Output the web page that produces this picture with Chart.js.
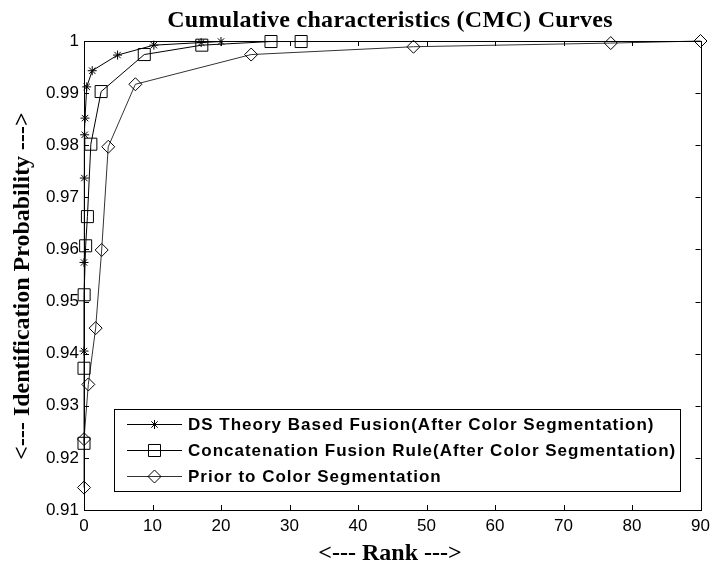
<!DOCTYPE html>
<html>
<head>
<meta charset="utf-8">
<script src="https://cdn.jsdelivr.net/npm/chart.js"></script>
<style>
  body { margin: 0; background: #fff; }
  canvas { display: block; }
</style>
</head>
<body>
<canvas id="cmc" width="710" height="564"></canvas>
<script>
const titleText = 'Cumulative characteristics (CMC) Curves'
const xTitle = '<--- Rank --->'
const yTitle = '<--- Identification Probability --->'

const seriesNames = [
  'DS Theory Based Fusion(After Color Segmentation)',
  'Concatenation Fusion Rule(After Color Segmentation)',
  'Prior to Color Segmentation'
]

const rankDS = [0, 0, 0.05, 0.1, 0.15, 0.4, 1.2, 4.9, 10.2, 17.1, 20]
const probDS = [0.9405, 0.9575, 0.9737, 0.9820, 0.9852, 0.9912, 0.9943, 0.9973, 0.9992, 0.9997, 0.9999]

const rankConcat = [0, 0, 0.02, 0.24, 0.5, 1.0, 2.5, 8.8, 17.2, 27.3, 31.7]
const probConcat = [0.9228, 0.9372, 0.9513, 0.9607, 0.9663, 0.9802, 0.9903, 0.9974, 0.9992, 0.9999, 0.9999]

const rankPrior = [0, 0, 0.63, 1.7, 2.58, 3.54, 7.5, 24.4, 48.1, 76.9, 90]
const probPrior = [0.9143, 0.9236, 0.9341, 0.9449, 0.9599, 0.9797, 0.9917, 0.9974, 0.9989, 0.9996, 1.0]

const xTickValues = [0, 10, 20, 30, 40, 50, 60, 70, 80, 90]
const xTickLabels = ['0', '10', '20', '30', '40', '50', '60', '70', '80', '90']
const yTickValues = [0.91, 0.92, 0.93, 0.94, 0.95, 0.96, 0.97, 0.98, 0.99, 1]
const yTickLabels = ['0.91', '0.92', '0.93', '0.94', '0.95', '0.96', '0.97', '0.98', '0.99', '1']

const toPoints = (xs, ys) => xs.map((x, i) => ({ x, y: ys[i] }))

function makeSet (label, xs, ys, style, radius, color) {
  return {
    label,
    data: toPoints(xs, ys),
    showLine: true,
    borderColor: color,
    borderWidth: 1,
    backgroundColor: 'rgba(0,0,0,0)',
    pointStyle: style,
    pointRadius: radius,
    pointBorderColor: '#000',
    pointBorderWidth: 1,
    pointBackgroundColor: 'rgba(0,0,0,0)',
    tension: 0,
    clip: false
  }
}

// box, inward ticks, titles and the inset legend
const matlabLook = {
  id: 'matlabLook',
  afterDraw (chart) {
    const ctx = chart.ctx
    const area = chart.chartArea
    const xs = chart.scales.x
    const ys = chart.scales.y
    ctx.save()
    ctx.strokeStyle = '#000'
    ctx.lineWidth = 1
    ctx.strokeRect(Math.round(area.left) + 0.5, Math.round(area.top) + 0.5,
      Math.round(area.right - area.left), Math.round(area.bottom - area.top))

    ctx.beginPath()
    xs.ticks.forEach(t => {
      const px = Math.round(xs.getPixelForValue(t.value)) + 0.5
      ctx.moveTo(px, area.bottom); ctx.lineTo(px, area.bottom - 5)
      ctx.moveTo(px, area.top); ctx.lineTo(px, area.top + 5)
    })
    ys.ticks.forEach(t => {
      const py = Math.round(ys.getPixelForValue(t.value)) + 0.5
      ctx.moveTo(area.left, py); ctx.lineTo(area.left + 5, py)
      ctx.moveTo(area.right, py); ctx.lineTo(area.right - 5, py)
    })
    ctx.stroke()

    ctx.fillStyle = '#000'
    ctx.font = 'bold 24px "Liberation Serif", "Times New Roman", serif'
    ctx.textAlign = 'center'
    ctx.textBaseline = 'alphabetic'
    ctx.letterSpacing = '0.3px'
    ctx.fillText(titleText, 390, 27)
    ctx.letterSpacing = '0px'
    ctx.fillText(xTitle, 390, 560)
    ctx.save()
    ctx.translate(29, 286)
    ctx.rotate(-Math.PI / 2)
    ctx.fillText(yTitle, 0, 0)
    ctx.restore()

    // legend
    const box = { left: 114, top: 409, right: 680, bottom: 491 }
    ctx.fillStyle = '#fff'
    ctx.fillRect(box.left, box.top, box.right - box.left, box.bottom - box.top)
    ctx.strokeRect(box.left + 0.5, box.top + 0.5, box.right - box.left, box.bottom - box.top)
    const rows = [424, 450, 476]
    ctx.font = 'bold 17px "Liberation Sans", Arial, sans-serif'
    ctx.letterSpacing = '1px'
    ctx.textAlign = 'left'
    ctx.textBaseline = 'middle'
    chart.data.datasets.forEach((ds, i) => {
      const y = rows[i] + 0.5
      ctx.strokeStyle = ds.borderColor
      ctx.beginPath()
      ctx.moveTo(127, y); ctx.lineTo(182, y)
      ctx.stroke()
      ctx.strokeStyle = '#000'
      ctx.fillStyle = 'rgba(0,0,0,0)'
      Chart.helpers.drawPoint(ctx, {
        pointStyle: ds.pointStyle,
        radius: ds.pointRadius,
        rotation: 0,
        borderWidth: 1
      }, 154.5, y)
      ctx.fillStyle = '#000'
      ctx.fillText(ds.label, 188, rows[i] + 1)
    })
    ctx.restore()
  }
}

const ctx = document.getElementById('cmc')

new Chart(ctx, {
  type: 'scatter',
  data: {
    datasets: [
      makeSet(seriesNames[0], rankDS, probDS, 'star', 4.5, '#000'),
      makeSet(seriesNames[1], rankConcat, probConcat, 'rect', 8.5, '#000'),
      makeSet(seriesNames[2], rankPrior, probPrior, 'rectRot', 6.5, '#333')
    ]
  },
  options: {
    responsive: false,
    animation: false,
    events: [],
    layout: {
      padding: { top: 41, right: 8, left: 0, bottom: 0 }
    },
    scales: {
      x: {
        type: 'linear',
        min: 0,
        max: 90,
        afterBuildTicks: (scale) => { scale.ticks = xTickValues.map(v => ({ value: v })) },
        afterFit: (scale) => { scale.height = 54; scale.paddingRight = 0 },
        grid: { display: false, drawTicks: false },
        border: { display: false },
        ticks: {
          padding: 6,
          color: '#000',
          font: { family: '"Liberation Sans", Arial, sans-serif', size: 17 },
          maxRotation: 0,
          callback: (value, index) => xTickLabels[index]
        }
      },
      y: {
        type: 'linear',
        min: 0.91,
        max: 1,
        afterBuildTicks: (scale) => { scale.ticks = yTickValues.map(v => ({ value: v })) },
        afterFit: (scale) => { scale.width = 84 },
        grid: { display: false, drawTicks: false },
        border: { display: false },
        ticks: {
          padding: 5,
          color: '#000',
          font: { family: '"Liberation Sans", Arial, sans-serif', size: 17 },
          callback: (value, index) => yTickLabels[index]
        }
      }
    },
    plugins: {
      legend: { display: false },
      title: { display: false },
      tooltip: { enabled: false }
    }
  },
  plugins: [matlabLook]
})
</script>
</body>
</html>
